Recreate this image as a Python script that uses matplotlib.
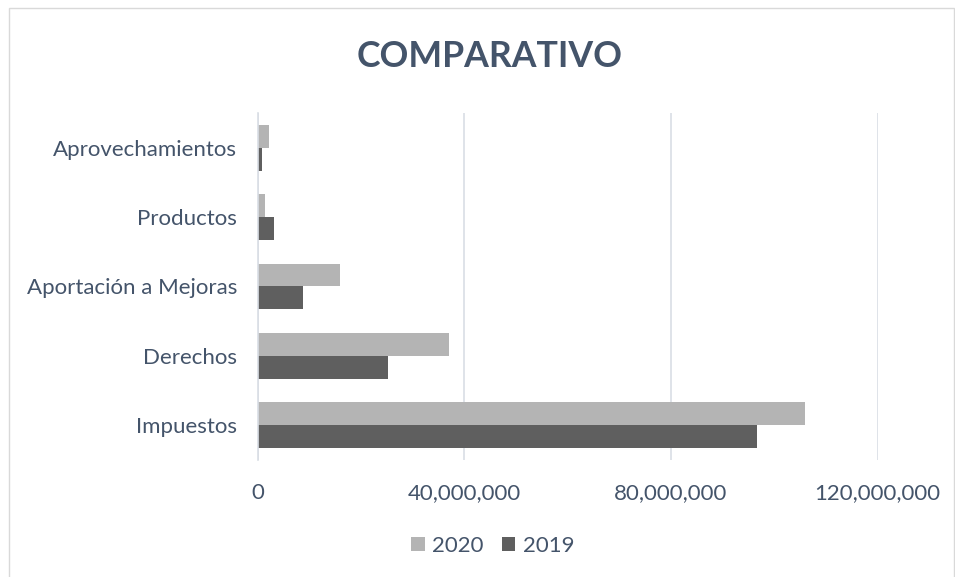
import numpy as np
import matplotlib.pyplot as plt
from matplotlib.ticker import FuncFormatter
from matplotlib.patches import Rectangle

categories = ['Impuestos', 'Derechos', 'Aportación a Mejoras', 'Productos', 'Aprovechamientos']
v2020 = [105.9e6, 37.0e6, 16.0e6, 1.4e6, 2.1e6]
v2019 = [96.6e6, 25.2e6, 8.8e6, 3.1e6, 0.8e6]

text_color = '#44546A'
plt.rcParams['font.family'] = ['Lato', 'DejaVu Sans']

fig = plt.figure(figsize=(9.55, 5.77), dpi=100)
ax = fig.add_axes([0.270, 0.203, 0.649, 0.601])

y = np.arange(len(categories))
h = 0.33
ax.barh(y + h / 2, v2020, height=h, color='#B4B4B4', label='2020', zorder=3)
ax.barh(y - h / 2, v2019, height=h, color='#5F5F5F', label='2019', zorder=3)

ax.set_xlim(0, 120e6)
ax.set_ylim(-0.5, len(categories) - 0.5)
ax.set_xticks([0, 40e6, 80e6, 120e6])
ax.xaxis.set_major_formatter(FuncFormatter(lambda v, p: f'{v:,.0f}'))
ax.set_yticks(y)
ax.set_yticklabels(categories)
ax.tick_params(axis='both', length=0, labelsize=16, labelcolor=text_color)
ax.tick_params(axis='y', pad=15)
ax.tick_params(axis='x', pad=17)
ax.grid(axis='x', color='#D9DEE5', linewidth=1.2, zorder=0)
for s in ['top', 'right', 'bottom']:
    ax.spines[s].set_visible(False)
ax.spines['left'].set_color('#D9DEE5')
ax.spines['left'].set_linewidth(1.2)
ax.spines['left'].set_zorder(4)

fig.text(0.513, 0.902, 'COMPARATIVO', ha='center', va='center', fontsize=25.7,
         fontweight='bold', color=text_color)

ax.legend(loc='center', bbox_to_anchor=(0.516, 0.054), bbox_transform=fig.transFigure,
          ncol=2, frameon=False, fontsize=16, labelcolor=text_color,
          handlelength=0.6, handleheight=0.6, handletextpad=0.35, columnspacing=0.8)

fig.patches.append(Rectangle((0.009, -0.01), 0.99, 0.996, transform=fig.transFigure,
                             fill=False, edgecolor='#D9D9D9', linewidth=1))

fig.savefig('out.png', dpi=100)
